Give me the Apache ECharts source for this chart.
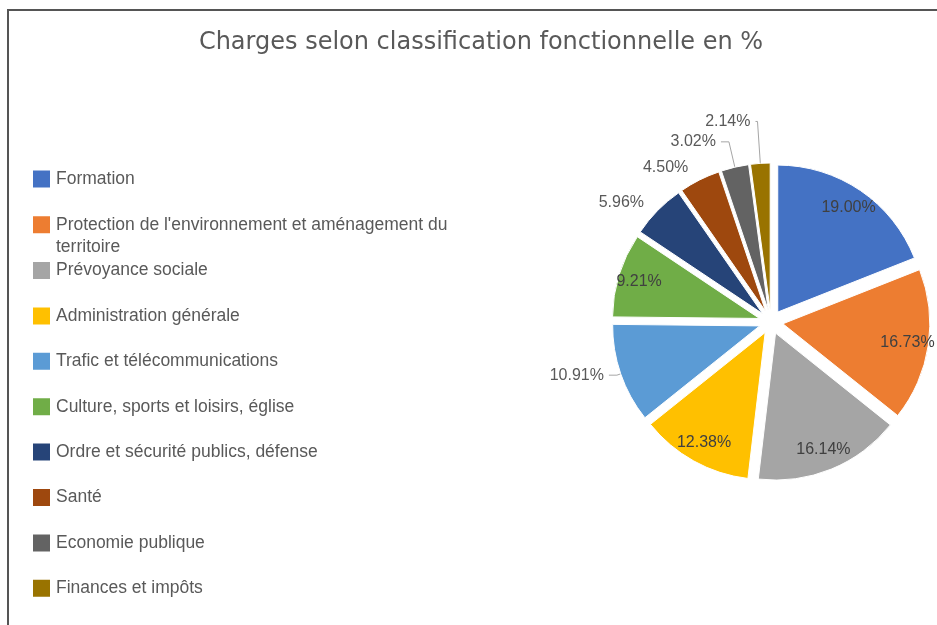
<!DOCTYPE html>
<html>
<head>
<meta charset="utf-8">
<title>Charges selon classification fonctionnelle</title>
<script src="https://cdn.jsdelivr.net/npm/echarts@6/dist/echarts.min.js"></script>
<style>
  html, body { margin: 0; padding: 0; background: #fff; }
  #chart { width: 937px; height: 625px; }
</style>
</head>
<body>
<div id="chart"></div>
<script>
var titleText = 'Charges selon classification fonctionnelle en %';

var categories = [
    'Formation',
    "Protection de l'environnement et aménagement du territoire",
    'Prévoyance sociale',
    'Administration générale',
    'Trafic et télécommunications',
    'Culture, sports et loisirs, église',
    'Ordre et sécurité publics, défense',
    'Santé',
    'Economie publique',
    'Finances et impôts'
];
var shares = [19.00, 16.73, 16.14, 12.38, 10.91, 9.21, 5.96, 4.50, 3.02, 2.14];
var colors = ['#4472c4', '#ed7d31', '#a5a5a5', '#ffc000', '#5b9bd5',
              '#70ad47', '#264478', '#9e480e', '#636363', '#997300'];

// which slices get their label outside, and how long the leader is
var outsideLabels = {
    4: { len: 4, len2: 8, line: true },
    6: { len: 12, len2: 0, line: false },
    7: { len: 14, len2: 0, line: false },
    8: { len: 26, len2: 8, line: true },
    9: { len: 42, len2: 2, line: true }
};

var CENTER = [771, 322];
var R = 147;
var OFFSET = 12;

function pct(v) {
    return v.toFixed(2) + '%';
}

var chart = echarts.init(document.getElementById('chart'));

var sliceData = categories.map(function (name, i) {
    var o = outsideLabels[i];
    return {
        name: name,
        value: shares[i],
        selected: true,
        itemStyle: { color: colors[i] },
        label: { show: !!o },
        labelLine: {
            show: !!(o && o.line),
            length: o ? o.len : 0,
            length2: o ? o.len2 : 0
        }
    };
});

// transparent ring, only used to put the inner labels near the rim
var innerLabelData = categories.map(function (name, i) {
    return {
        name: name,
        value: shares[i],
        selected: true,
        label: { show: !outsideLabels[i] }
    };
});

var legendBase = {
    orient: 'vertical',
    left: 26,
    itemWidth: 19,
    itemHeight: 19,
    itemGap: 23.4,
    icon: 'rect',
    selectedMode: false,
    formatter: function (name) {
        return name.replace(' du territoire', ' du\nterritoire');
    },
    textStyle: {
        fontFamily: 'Liberation Sans',
        fontSize: 17.5,
        color: '#595959',
        lineHeight: 22
    }
};

var option = {
    animation: false,
    backgroundColor: '#fff',
    title: {
        text: titleText,
        left: 476,
        top: 26,
        textAlign: 'center',
        textStyle: {
            fontFamily: 'DejaVu Sans',
            fontSize: 24,
            fontWeight: 'normal',
            color: '#595959'
        }
    },
    graphic: [{
        type: 'rect',
        silent: true,
        shape: { x: 8, y: 10, width: 1000, height: 700 },
        style: { fill: 'none', stroke: '#555', lineWidth: 2 }
    }],
    legend: [
        Object.assign({}, legendBase, {
            top: 163,
            data: categories.slice(0, 1)
        }),
        // wrapped entry: the square sits at the top of a taller icon box,
        // level with the first line of text
        Object.assign({}, legendBase, {
            top: 208.8,
            itemHeight: 41,
            icon: 'path://M0,0H19V19H0Z M0,41H19',
            data: categories.slice(1, 2)
        }),
        Object.assign({}, legendBase, {
            top: 254.5,
            data: categories.slice(2)
        })
    ],
    series: [
        {
            name: 'Charges',
            type: 'pie',
            center: CENTER,
            radius: R,
            startAngle: 90,
            clockwise: true,
            selectedMode: 'multiple',
            selectedOffset: OFFSET,
            avoidLabelOverlap: true,
            emphasis: { disabled: true },
            itemStyle: { borderColor: '#fff', borderWidth: 1 },
            select: { itemStyle: { borderColor: '#fff', borderWidth: 1 } },
            label: {
                position: 'outside',
                formatter: function (p) { return pct(p.value); },
                fontFamily: 'Liberation Sans',
                fontSize: 16,
                color: '#595959'
            },
            labelLine: {
                lineStyle: { color: '#a6a6a6', width: 1 }
            },
            data: sliceData
        },
        {
            name: 'Charges labels',
            type: 'pie',
            center: CENTER,
            radius: [99, R],
            startAngle: 90,
            clockwise: true,
            silent: true,
            selectedMode: 'multiple',
            selectedOffset: OFFSET,
            emphasis: { disabled: true },
            itemStyle: { color: 'rgba(0,0,0,0)', borderWidth: 0 },
            select: { itemStyle: { color: 'rgba(0,0,0,0)', borderWidth: 0 } },
            label: {
                position: 'inside',
                formatter: function (p) { return pct(p.value); },
                fontFamily: 'Liberation Sans',
                fontSize: 16,
                color: '#404040'
            },
            labelLine: { show: false },
            data: innerLabelData
        }
    ]
};

chart.setOption(option);
</script>
</body>
</html>
